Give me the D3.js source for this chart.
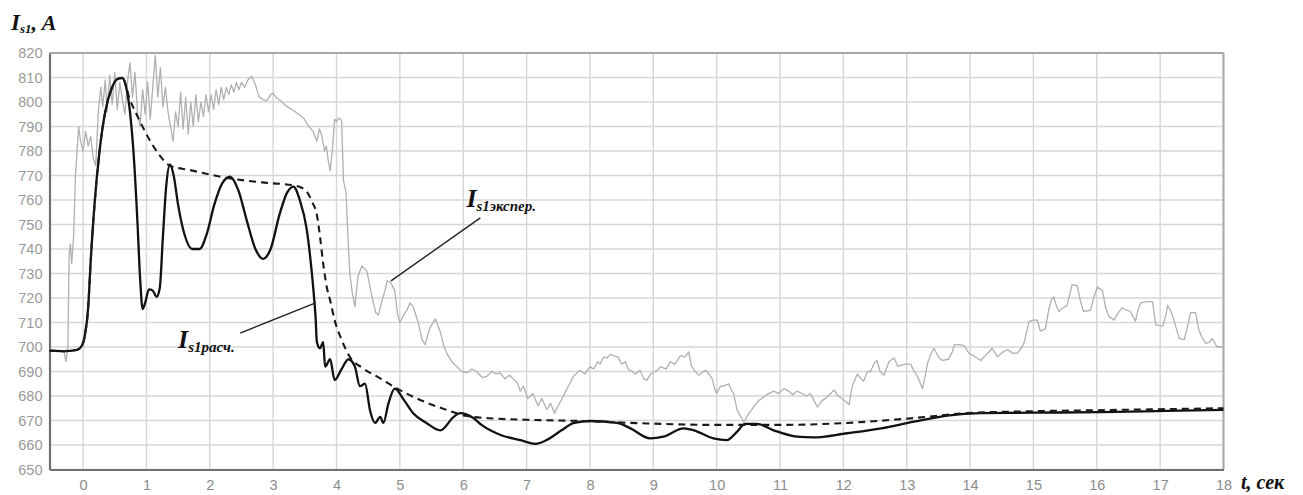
<!DOCTYPE html>
<html>
<head>
<meta charset="utf-8">
<script src="https://cdn.jsdelivr.net/npm/d3@7"></script>
<style>
  html, body { margin: 0; padding: 0; background: #fff; }
  svg { display: block; }
</style>
</head>
<body>
<svg id="chart" width="1303" height="495"></svg>
<script>
// Axis ticks
const timeTicks = d3.range(0, 19);            // t, сек
const currentTicks = d3.range(650, 821, 10);  // I, A

// Calculated stator current, [t, I]
const calculated = [
  [-0.53,698.5],[-0.3,698.3],[-0.1,698.8],[-0.02,700.5],[0.03,705],[0.08,716],[0.12,735],[0.18,758],
  [0.26,780],[0.35,796],[0.45,805.5],[0.55,809.5],[0.62,809.8],[0.68,806],[0.74,796],[0.8,778],
  [0.86,750],[0.9,728],[0.94,715.5],[0.98,718],[1.04,723.5],[1.1,723],[1.16,720.5],[1.21,724],
  [1.26,745],[1.31,765],[1.37,774.5],[1.43,770],[1.5,758],[1.6,746],[1.72,740],[1.84,740],
  [1.95,746],[2.07,758],[2.2,767],[2.32,769.5],[2.45,764],[2.58,752],[2.72,740],[2.84,736],
  [2.96,740],[3.1,754],[3.22,763],[3.32,765.5],[3.42,760],[3.53,748],[3.6,733],[3.64,722],
  [3.67,712],[3.69,702],[3.74,699.5],[3.79,702],[3.82,692],[3.9,695],[3.97,686.5],[4.08,691],
  [4.19,695],[4.29,692],[4.37,684],[4.45,685],[4.53,674],[4.61,669],[4.69,671.5],[4.74,669],
  [4.82,677],[4.92,683],[5.06,678.5],[5.21,673],[5.42,669],[5.64,666],[5.85,671.5],[5.95,673],
  [6.16,671],[6.3,668],[6.6,664],[6.9,662],[7.15,660.5],[7.35,662.5],[7.55,666],[7.75,669],
  [8.0,669.8],[8.43,669],[8.64,666.8],[8.95,662.7],[9.16,663.4],[9.48,666.8],[9.64,666],
  [9.95,662.7],[10.16,662],[10.32,665.4],[10.45,668.6],[10.64,668.6],[10.9,666],[11.27,663.4],
  [11.53,663.1],[12.06,664.8],[12.6,666.8],[13.11,669.5],[13.64,672],[14.17,673],[15,673.2],
  [16.06,673.4],[17.1,673.9],[18,674.3]
];

// Upper envelope of the calculated current, [t, I]
const envelope = [
  [-0.53,698.5],[-0.3,698.3],[-0.1,698.8],[-0.02,700.5],[0.03,705],[0.08,716],[0.12,735],[0.18,758],
  [0.26,780],[0.35,796],[0.45,805.5],[0.55,809.5],[0.62,809.8],[0.74,801],[0.9,792],[1.05,784.5],
  [1.2,778.5],[1.37,774],[1.69,772.2],[2.27,769],[2.9,767],[3.32,766],[3.45,765],[3.53,763.4],
  [3.62,759],[3.69,754],[3.74,745],[3.79,734],[3.85,724],[3.9,719],[3.97,711],[4.08,703],
  [4.21,696],[4.42,691.3],[4.69,687.2],[4.95,683.1],[5.32,678.4],[5.74,674.3],[6.06,671.8],
  [6.5,670.8],[7.0,670.3],[7.85,669.8],[8.9,668.8],[9.95,668.2],[11,668.2],[12.06,669],
  [13.11,671],[13.96,673],[15,673.8],[16,674.2],[17,674.6],[18,675]
];

// Measured stator current, [t, I]
const experimental = [
  [-0.53,699],[-0.4,698.5],[-0.3,698],[-0.27,694],[-0.24,700],[-0.22,738],[-0.2,742],[-0.18,734],
  [-0.15,745],[-0.12,770],[-0.1,778],[-0.07,790],[-0.04,784],[0,780],[0.04,788],[0.08,782],
  [0.12,786],[0.16,777],[0.2,774],[0.24,796],[0.28,806],[0.31,798],[0.35,809],[0.38,796],
  [0.42,811],[0.46,799],[0.5,812],[0.54,797],[0.58,808],[0.62,801],[0.66,795],[0.7,808],
  [0.74,816],[0.78,802],[0.82,812],[0.86,795],[0.9,790],[0.94,805],[0.98,795],[1.02,808],
  [1.06,793],[1.1,806],[1.14,819],[1.18,802],[1.22,814],[1.26,798],[1.3,806],[1.34,796],
  [1.38,790],[1.42,784],[1.46,796],[1.5,790],[1.54,804],[1.58,789],[1.62,802],[1.66,787],
  [1.7,800],[1.74,790],[1.78,803],[1.82,792],[1.86,800],[1.9,794],[1.94,803],[1.98,796],
  [2.02,803],[2.06,797],[2.1,805],[2.14,799],[2.18,806],[2.22,801],[2.26,806],[2.3,803],
  [2.34,807],[2.38,804],[2.42,808],[2.46,805],[2.5,808],[2.55,806],[2.6,809],[2.66,810.5],
  [2.72,807],[2.78,802],[2.84,801],[2.9,800.5],[2.96,803],[3.0,803.5],[3.06,801.5],[3.12,800.5],
  [3.2,798.5],[3.26,797.5],[3.32,796.5],[3.4,795],[3.48,793.5],[3.55,790.5],[3.63,788],[3.69,784],
  [3.73,789],[3.77,786],[3.81,780],[3.84,782],[3.87,776],[3.9,772],[3.94,782],[3.97,793],
  [4.0,792],[4.04,793.5],[4.08,792.5],[4.11,768],[4.15,763],[4.18,745],[4.21,730],[4.25,722],
  [4.29,716.5],[4.34,729],[4.4,733],[4.48,731],[4.56,720.5],[4.62,714],[4.66,713],[4.72,719],
  [4.77,723.5],[4.8,727],[4.85,726.5],[4.92,723],[4.96,714],[5.0,710],[5.06,713],[5.11,715],
  [5.16,718],[5.21,716.5],[5.29,710],[5.35,703],[5.4,701],[5.44,705],[5.48,708],[5.56,711.5],
  [5.64,706],[5.7,700],[5.74,697.5],[5.82,694],[5.9,692],[5.98,690],[6.06,689.5],[6.14,691],
  [6.21,690],[6.3,687.5],[6.37,688],[6.45,690],[6.52,689],[6.58,689.5],[6.66,687],[6.73,688.5],
  [6.79,687],[6.85,685.5],[6.9,682],[6.95,684],[7.02,679],[7.1,681],[7.18,676],[7.24,679],
  [7.32,674.5],[7.38,677],[7.44,673],[7.5,676],[7.56,679],[7.62,682],[7.68,685],[7.74,688],
  [7.84,690.5],[7.92,689],[8.0,692],[8.06,691],[8.12,694],[8.16,693],[8.22,696],[8.27,695.5],
  [8.32,697],[8.37,696.5],[8.44,696],[8.5,693],[8.56,694],[8.6,691],[8.64,690.5],[8.72,689],
  [8.79,690.5],[8.85,687],[8.9,686.5],[8.96,689],[9.06,690.5],[9.12,692],[9.2,691],[9.27,694],
  [9.34,693],[9.43,696.5],[9.5,696],[9.56,698],[9.6,692.5],[9.66,690],[9.72,688.5],[9.82,690.5],
  [9.88,689],[9.93,687],[9.97,683],[10.0,681],[10.06,684],[10.11,684],[10.19,685],[10.24,682],
  [10.27,681],[10.32,674.5],[10.37,672],[10.43,669.5],[10.5,672.5],[10.58,675.5],[10.66,678],
  [10.74,679.5],[10.82,681],[10.9,682],[10.98,681],[11.06,683],[11.14,682],[11.2,680.5],
  [11.27,682],[11.35,681],[11.42,680],[11.48,681],[11.54,678],[11.59,675.5],[11.66,678],
  [11.74,679.5],[11.8,681],[11.85,682.5],[11.92,680],[12.0,678.5],[12.09,676.5],[12.14,684],
  [12.22,689],[12.28,687],[12.32,686],[12.38,690],[12.43,690],[12.48,693],[12.53,694.5],
  [12.58,690],[12.64,688.5],[12.72,694],[12.8,695.5],[12.86,692],[12.9,692.5],[12.98,693],
  [13.06,693],[13.12,690],[13.17,688],[13.25,683],[13.29,688],[13.33,693.5],[13.38,697],
  [13.43,699.5],[13.5,696],[13.56,694.5],[13.66,695],[13.72,698],[13.75,701],[13.84,701],
  [13.91,700.5],[13.98,697.5],[14.08,696],[14.17,694.5],[14.26,697],[14.35,699.5],[14.43,696],
  [14.52,698],[14.59,699],[14.67,697.5],[14.75,697.5],[14.82,700],[14.85,701.5],[14.9,707],
  [14.93,710.5],[15.0,711],[15.06,711],[15.11,706.5],[15.19,707.5],[15.24,715],[15.28,719],
  [15.32,720.5],[15.36,717],[15.4,714.5],[15.47,716],[15.53,717],[15.57,721],[15.61,725.5],
  [15.69,725],[15.74,719],[15.79,714.5],[15.9,715],[15.95,720],[16.01,724.5],[16.09,723],
  [16.14,716],[16.19,712.5],[16.27,711],[16.34,714],[16.4,716],[16.47,715],[16.53,714.5],
  [16.61,710.5],[16.65,715],[16.69,718],[16.8,718.5],[16.88,718.5],[16.93,709],[17.04,708.5],
  [17.09,713],[17.12,717],[17.16,715],[17.2,712.5],[17.25,708],[17.3,703.5],[17.38,703],
  [17.43,708],[17.48,714],[17.56,714],[17.61,707],[17.66,704],[17.72,701.5],[17.78,702],
  [17.82,703.5],[17.9,700],[18,700]
];

// Curve callouts: label position in data units and the point the leader line touches
const calloutCalc = { main: "I", sub: "s1расч.", at: [1.5, 699.5], from: [2.48, 705.7], to: [3.67, 718] };
const calloutExp  = { main: "I", sub: "s1экспер.", at: [6.05, 757], from: [6.27, 752.7], to: [4.86, 727] };

const svg = d3.select("#chart");
const x = d3.scaleLinear().domain([-0.53, 18]).range([49.5, 1223.5]);
const y = d3.scaleLinear().domain([650, 820]).range([469.5, 53]);

const serif = "'Liberation Serif', 'Times New Roman', serif";
const sans = "'Liberation Sans', Arial, sans-serif";

// Grid
const grid = svg.append("g").attr("stroke", "#d6d6d6").attr("stroke-width", 1.4);
grid.selectAll("line.v").data(timeTicks).join("line")
  .attr("x1", d => x(d)).attr("x2", d => x(d))
  .attr("y1", y(820)).attr("y2", y(650));
grid.selectAll("line.h").data(currentTicks).join("line")
  .attr("x1", x(-0.53)).attr("x2", x(18))
  .attr("y1", d => y(d)).attr("y2", d => y(d));

// Frame: light top/right, darker left/bottom
svg.append("line").attr("x1", x(-0.53)).attr("x2", x(18)).attr("y1", y(820)).attr("y2", y(820))
  .attr("stroke", "#a8a8a8").attr("stroke-width", 2);
svg.append("line").attr("x1", x(18)).attr("x2", x(18)).attr("y1", y(820)).attr("y2", y(650))
  .attr("stroke", "#a8a8a8").attr("stroke-width", 2);

// Axes
const yAxis = svg.append("g").attr("transform", `translate(${x(-0.53)},0)`)
  .call(d3.axisLeft(y).tickValues(currentTicks).tickSize(0).tickPadding(7).tickFormat(d3.format("d")));
const xAxis = svg.append("g").attr("transform", `translate(0,${y(650)})`)
  .call(d3.axisBottom(x).tickValues(timeTicks).tickSize(0).tickPadding(10).tickFormat(d3.format("d")));
[yAxis, xAxis].forEach(a => {
  a.select(".domain").attr("stroke", "#707070").attr("stroke-width", 2.2);
  a.selectAll("text").attr("fill", "#9a9a9a").style("font-family", sans).style("font-size", "14.5px");
});
xAxis.selectAll("text").attr("fill", "#8c8c8c");

// Curves
const lineLinear = d3.line().x(d => x(d[0])).y(d => y(d[1]));
const lineSmooth = d3.line().x(d => x(d[0])).y(d => y(d[1])).curve(d3.curveMonotoneX);

svg.append("path").datum(experimental).attr("d", lineLinear)
  .attr("fill", "none").attr("stroke", "#b0b0b0").attr("stroke-width", 1.3)
  .attr("stroke-linejoin", "round");
svg.append("path").datum(calculated).attr("d", lineSmooth)
  .attr("fill", "none").attr("stroke", "#111").attr("stroke-width", 2.3)
  .attr("stroke-linejoin", "round");
svg.append("path").datum(envelope).attr("d", lineSmooth)
  .attr("fill", "none").attr("stroke", "#1a1a1a").attr("stroke-width", 2.1)
  .attr("stroke-dasharray", "7,5");

// Callouts
[calloutCalc, calloutExp].forEach(c => {
  svg.append("line")
    .attr("x1", x(c.from[0])).attr("y1", y(c.from[1]))
    .attr("x2", x(c.to[0])).attr("y2", y(c.to[1]))
    .attr("stroke", "#222").attr("stroke-width", 1.4);
  const t = svg.append("text").attr("x", x(c.at[0])).attr("y", y(c.at[1]))
    .style("font-family", serif).style("font-style", "italic").style("font-weight", "bold")
    .attr("fill", "#111");
  t.append("tspan").style("font-size", "26px").text(c.main);
  t.append("tspan").style("font-size", "15px").attr("dy", 4).text(c.sub);
});

// Axis titles
const yTitle = svg.append("text").attr("x", 11).attr("y", 30)
  .style("font-family", serif).style("font-style", "italic").style("font-weight", "bold").attr("fill", "#111");
yTitle.append("tspan").style("font-size", "23px").text("I");
yTitle.append("tspan").style("font-size", "13px").attr("dy", 3).text("s1");
yTitle.append("tspan").style("font-size", "22px").attr("dy", -3).text(", A");

svg.append("text").attr("x", 1241).attr("y", 489)
  .style("font-family", serif).style("font-style", "italic").style("font-weight", "bold")
  .style("font-size", "20px").attr("fill", "#111").text("t, сек");
</script>
</body>
</html>
